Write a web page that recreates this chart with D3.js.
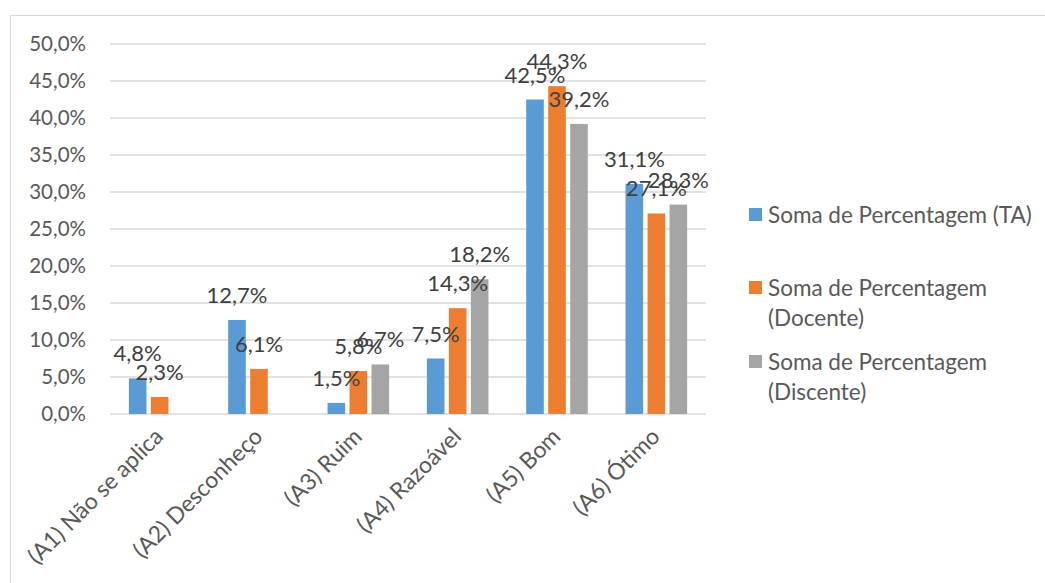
<!DOCTYPE html>
<html><head><meta charset="utf-8">
<script src="https://cdn.jsdelivr.net/npm/d3@7"></script>
<style>body{margin:0;background:#fff}svg{display:block}</style>
</head><body><svg id="c" width="1045" height="583"></svg>
<script>
const categories = ["(A1) Não se aplica","(A2) Desconheço","(A3) Ruim","(A4) Razoável","(A5) Bom","(A6) Ótimo"];
const seriesNames = ["Soma de Percentagem (TA)","Soma de Percentagem (Docente)","Soma de Percentagem (Discente)"];
const legendLines = [["Soma de Percentagem (TA)"],["Soma de Percentagem","(Docente)"],["Soma de Percentagem","(Discente)"]];
const taValues = [4.8,12.7,1.5,7.5,42.5,31.1];
const docenteValues = [2.3,6.1,5.8,14.3,44.3,27.1];
const discenteValues = [null,null,6.7,18.2,39.2,28.3];
const yTicks = [0,5,10,15,20,25,30,35,40,45,50];
const colors = ["#5B9BD5","#ED7D31","#A5A5A5"];

const allSeries = [taValues, docenteValues, discenteValues];
const fmt = v => v.toFixed(1).replace(".", ",") + "%";
const svg = d3.select("#c");
const font = "Lato, 'Open Sans', sans-serif";

svg.append("rect").attr("x",10.5).attr("y",15.5).attr("width",1040).attr("height",580)
  .attr("fill","#fff").attr("stroke","#d9d9d9");

const x0 = d3.scaleBand().domain(categories).range([110,706]).padding(0);
const bw = x0.bandwidth();
const x1 = d3.scaleBand().domain([0,1,2]).range([bw/2-33, bw/2+33]).paddingInner(0.2).paddingOuter(0.1);
const y = d3.scaleLinear().domain([0,50]).range([414,44]);

// gridlines
svg.append("g").selectAll("line").data(yTicks).join("line")
  .attr("x1",110).attr("x2",706).attr("y1",d=>y(d)).attr("y2",d=>y(d))
  .attr("stroke","#d9d9d9").attr("stroke-width",1.3);

// y axis labels
const yAxis = d3.axisLeft(y).tickValues(yTicks).tickFormat(d=>fmt(d)).tickSize(0).tickPadding(0);
const ya = svg.append("g").attr("transform","translate(86,0)").call(yAxis);
ya.select(".domain").remove();
ya.selectAll("text").attr("font-family",font).attr("font-size",20.5).attr("fill","#595959");

// bars
const rows = categories.map((c,i)=>({c, vals: allSeries.map((s,j)=>({j, v:s[i]}))}));
const g = svg.append("g").selectAll("g").data(rows).join("g")
  .attr("transform",d=>`translate(${x0(d.c)},0)`);
g.selectAll("rect").data(d=>d.vals.filter(e=>e.v!=null)).join("rect")
  .attr("x",d=>x1(d.j)).attr("width",x1.bandwidth())
  .attr("y",d=>y(d.v)).attr("height",d=>y(0)-y(d.v))
  .attr("fill",d=>colors[d.j]);

// data labels
g.selectAll("text").data(d=>d.vals.filter(e=>e.v!=null)).join("text")
  .attr("x",d=>x1(d.j)+x1.bandwidth()/2).attr("y",d=>y(d.v)-17)
  .attr("text-anchor","middle").attr("font-family",font).attr("font-size",22)
  .attr("fill","#404040").text(d=>fmt(d.v));

// x axis labels
const xAxis = d3.axisBottom(x0).tickSize(0).tickPadding(0);
const xa = svg.append("g").attr("transform","translate(0,414)").call(xAxis);
xa.select(".domain").remove();
xa.selectAll("text").attr("font-family",font).attr("font-size",23).attr("fill","#595959")
  .attr("text-anchor","end").attr("dy",null).attr("y",0)
  .attr("transform","translate(5,24) rotate(-45)");

// legend
const legY = [215,288,362];
const lg = svg.append("g").selectAll("g").data(seriesNames).join("g")
  .attr("transform",(d,i)=>`translate(749,${legY[i]})`);
lg.append("rect").attr("x",0).attr("y",-7).attr("width",13).attr("height",13).attr("fill",(d,i)=>colors[i]);
lg.each(function(d,i){
  const t = d3.select(this).append("text").attr("font-family",font).attr("font-size",22.5).attr("fill","#595959");
  legendLines[i].forEach((ln,k)=>{
    t.append("tspan").attr("x",19).attr("y",k*30+8).text(ln);
  });
});
</script></body></html>
